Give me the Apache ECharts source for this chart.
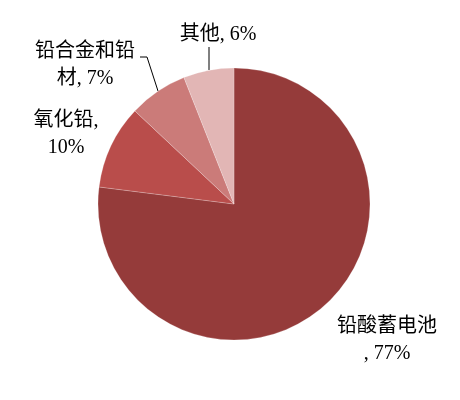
<!DOCTYPE html>
<html>
<head>
<meta charset="utf-8">
<script src="https://cdn.jsdelivr.net/npm/echarts@6/dist/echarts.min.js"></script>
<style>
html,body{margin:0;padding:0;background:#fff;}
#c{width:460px;height:400px;}
</style>
</head>
<body>
<div id="c"></div>
<script>
var categories = ['铅酸蓄电池', '氧化铅', '铅合金和铅材', '其他'];
var values = [77, 10, 7, 6];
var labelTexts = ['铅酸蓄电池\n, 77%', '氧化铅,\n10%', '铅合金和铅\n材, 7%', '其他, 6%'];
var colors = ['#953B3A', '#B94D4B', '#CB7B79', '#E2B6B5'];

// label anchor positions (layout only)
var labelPos = [
  {x: 387, y: 340},
  {x: 66, y: 134},
  {x: 85, y: 65},
  {x: 218, y: 35}
];
var linePts = [
  null,
  null,
  [[158, 91], [147, 57], [140, 57]],
  [[209, 70], [209, 70], [209, 47]]
];

var chart = echarts.init(document.getElementById('c'), null, {renderer: 'canvas'});
var data = categories.map(function (n, i) {
  return {
    name: n,
    value: values[i],
    itemStyle: {color: colors[i]},
    label: {formatter: labelTexts[i]},
    labelLine: {show: !!linePts[i]}
  };
});
chart.setOption({
  animation: false,
  backgroundColor: '#fff',
  series: [{
    type: 'pie',
    center: [234, 204],
    radius: 136,
    startAngle: 90,
    clockwise: true,
    avoidLabelOverlap: false,
    itemStyle: {borderColor: 'rgba(255,255,255,0.35)', borderWidth: 0.6},
    label: {
      show: true,
      position: 'outside',
      color: '#000',
      fontSize: 20,
      lineHeight: 27,
      align: 'center',
      fontFamily: "'Liberation Serif', 'Noto Sans CJK SC', serif"
    },
    labelLine: {
      show: true,
      lineStyle: {color: '#000', width: 1}
    },
    emphasis: {disabled: true},
    labelLayout: function (p) {
      var i = p.dataIndex;
      var o = {
        x: labelPos[i].x,
        y: labelPos[i].y,
        align: 'center',
        verticalAlign: 'middle'
      };
      if (linePts[i]) o.labelLinePoints = linePts[i];
      return o;
    },
    data: data
  }]
});
</script>
</body>
</html>
